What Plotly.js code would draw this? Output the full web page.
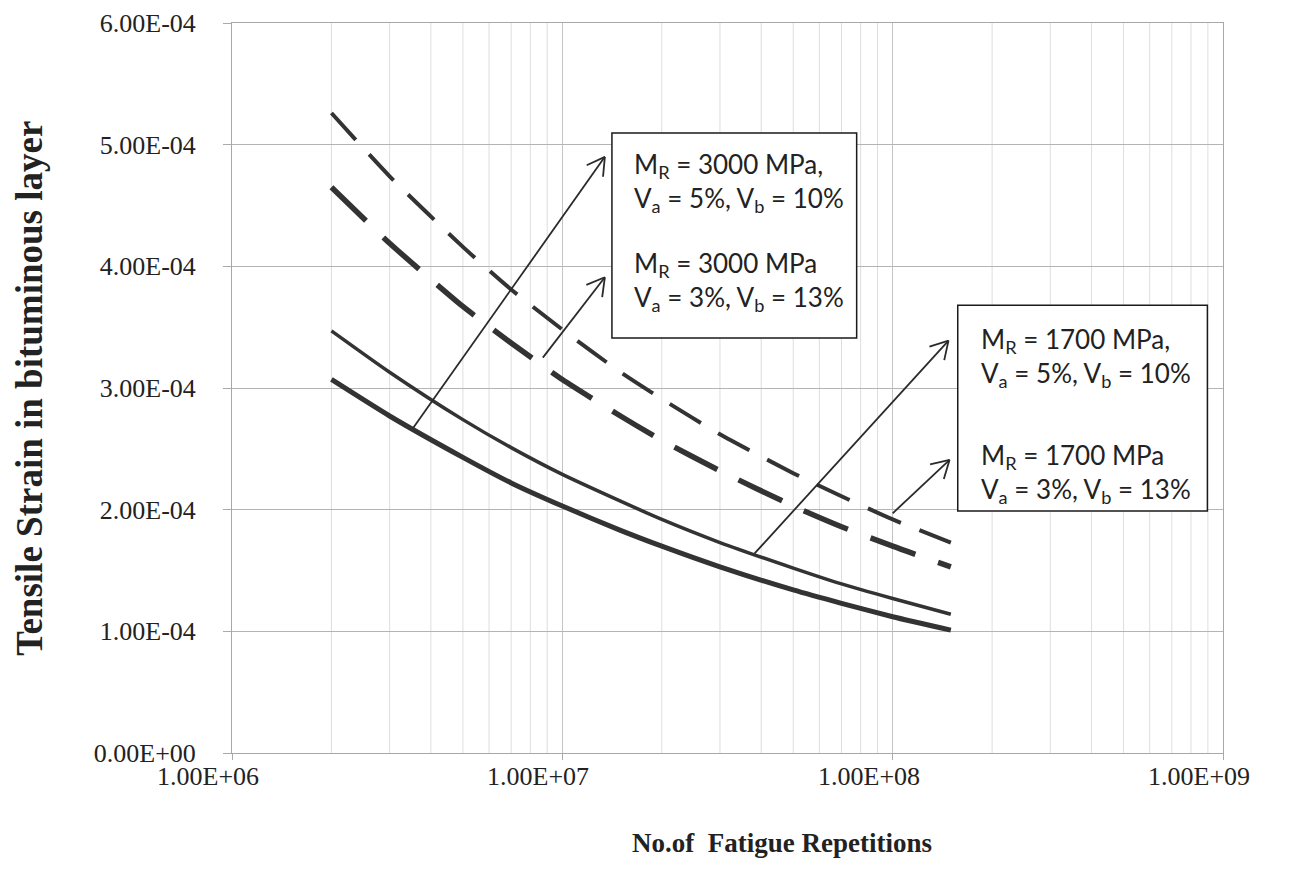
<!DOCTYPE html>
<html>
<head>
<meta charset="utf-8">
<script src="https://cdn.plot.ly/plotly-3.0.1.min.js"></script>
<style>
  html, body { margin: 0; padding: 0; background: #ffffff; }
  #chart { width: 1308px; height: 889px; }
</style>
</head>
<body>
<div id="chart"></div>
<script>
// ---- data ----
const repetitions = [2e6, 3e6, 5e6, 7e6, 1e7, 1.5e7, 2e7, 3e7, 5e7, 7e7, 1e8, 1.5e8];
const strainMR3000Va5 = [5.26e-4, 4.74e-4, 4.16e-4, 3.81e-4, 3.48e-4, 3.13e-4, 2.91e-4, 2.62e-4, 2.30e-4, 2.11e-4, 1.92e-4, 1.73e-4];
const strainMR3000Va3 = [4.65e-4, 4.19e-4, 3.67e-4, 3.37e-4, 3.07e-4, 2.77e-4, 2.57e-4, 2.32e-4, 2.03e-4, 1.86e-4, 1.70e-4, 1.53e-4];
const strainMR1700Va5 = [3.47e-4, 3.13e-4, 2.74e-4, 2.51e-4, 2.29e-4, 2.07e-4, 1.92e-4, 1.73e-4, 1.52e-4, 1.39e-4, 1.27e-4, 1.14e-4];
const strainMR1700Va3 = [3.07e-4, 2.77e-4, 2.43e-4, 2.22e-4, 2.03e-4, 1.83e-4, 1.70e-4, 1.53e-4, 1.34e-4, 1.23e-4, 1.12e-4, 1.01e-4];

const xTickVals = [1e6, 1e7, 1e8, 1e9];
const xTickText = ["1.00E+06", "1.00E+07", "1.00E+08", "1.00E+09"];
const yTickVals = [0, 1e-4, 2e-4, 3e-4, 4e-4, 5e-4, 6e-4];
const yTickText = ["0.00E+00", "1.00E-04", "2.00E-04", "3.00E-04", "4.00E-04", "5.00E-04", "6.00E-04"];
const xTitle = "No.of  Fatigue Repetitions";
const yTitle = "Tensile Strain in bituminous layer";

const boxLabels = [
  "M<sub>R</sub> = 3000 MPa,<br>V<sub>a</sub> = 5%, V<sub>b</sub> = 10%",
  "M<sub>R</sub> = 3000 MPa<br>V<sub>a</sub> = 3%, V<sub>b</sub> = 13%",
  "M<sub>R</sub> = 1700 MPa,<br>V<sub>a</sub> = 5%, V<sub>b</sub> = 10%",
  "M<sub>R</sub> = 1700 MPa<br>V<sub>a</sub> = 3%, V<sub>b</sub> = 13%"
];

// ---- layout helpers (axis ranges) ----
const X_LOG_MIN = 6, X_LOG_MAX = 9, Y_MIN = 0, Y_MAX = 6e-4;
const PLOT_W = 991, PLOT_H = 730;
function px(n) { return (Math.log10(n) - X_LOG_MIN) / (X_LOG_MAX - X_LOG_MIN); }
function py(v) { return (v - Y_MIN) / (Y_MAX - Y_MIN); }

const lineColor = "#333333";
const traces = [
  { x: repetitions, y: strainMR3000Va5, mode: "lines", name: "MR 3000, Va 5%",
    line: { color: lineColor, width: 4, dash: "36px,20px", shape: "spline", smoothing: 0.6 } },
  { x: repetitions, y: strainMR3000Va3, mode: "lines", name: "MR 3000, Va 3%",
    line: { color: lineColor, width: 5.5, dash: "48px,24px", shape: "spline", smoothing: 0.6 } },
  { x: repetitions, y: strainMR1700Va5, mode: "lines", name: "MR 1700, Va 5%",
    line: { color: lineColor, width: 3.5, shape: "spline", smoothing: 0.6 } },
  { x: repetitions, y: strainMR1700Va3, mode: "lines", name: "MR 1700, Va 3%",
    line: { color: lineColor, width: 5, shape: "spline", smoothing: 0.6 } }
];

// arrows (from a curve to a label box), in data coordinates
const arrows = [
  { from: [3.53e6, 2.67e-4], to: [1.345e7, 4.90e-4] },
  { from: [8.73e6, 3.25e-4], to: [1.345e7, 3.91e-4] },
  { from: [3.82e7, 1.64e-4], to: [1.476e8, 3.39e-4] },
  { from: [1.0e8, 1.97e-4], to: [1.487e8, 2.41e-4] }
];
// label boxes, in data coordinates [xLeft, xRight, yBottom, yTop]
const boxes = [
  [1.413e7, 7.78e7, 3.41e-4, 5.095e-4],
  [1.574e8, 8.97e8, 1.989e-4, 3.681e-4]
];

const shapes = [];
// minor vertical gridlines (2..9 in each decade)
for (let d = X_LOG_MIN; d < X_LOG_MAX; d++) {
  for (let k = 2; k <= 9; k++) {
    const xp = px(k * Math.pow(10, d));
    shapes.push({ type: "line", xref: "paper", yref: "paper", x0: xp, x1: xp, y0: 0, y1: 1,
      layer: "below", line: { color: "#dedede", width: 1 } });
  }
}
arrows.forEach(a => {
  const x0 = px(a.from[0]), y0 = py(a.from[1]);
  const x1 = px(a.to[0]), y1 = py(a.to[1]);
  shapes.push({ type: "line", xref: "paper", yref: "paper", x0, y0, x1, y1,
    line: { color: "#2a2a2a", width: 1.8 } });
  const dx = (x1 - x0) * PLOT_W, dy = (y1 - y0) * PLOT_H;
  const len = Math.hypot(dx, dy), ux = dx / len, uy = dy / len;
  const L = 20, ang = 30 * Math.PI / 180;
  [ang, -ang].forEach(t => {
    const rx = ux * Math.cos(t) - uy * Math.sin(t);
    const ry = ux * Math.sin(t) + uy * Math.cos(t);
    shapes.push({ type: "line", xref: "paper", yref: "paper",
      x0: x1, y0: y1, x1: x1 - rx * L / PLOT_W, y1: y1 - ry * L / PLOT_H,
      line: { color: "#2a2a2a", width: 1.8 } });
  });
});
boxes.forEach(b => {
  shapes.push({ type: "rect", xref: "paper", yref: "paper",
    x0: px(b[0]), x1: px(b[1]), y0: py(b[2]), y1: py(b[3]),
    fillcolor: "rgba(255,255,255,1)", line: { color: "#1a1a1a", width: 1.5 }, layer: "above" });
});

// label text positions (data coords of top-left of each text block)
const labelPos = [
  [1.62e7, 4.99e-4], [1.62e7, 4.175e-4],
  [1.83e8, 3.55e-4], [1.83e8, 2.60e-4]
];
const annotations = boxLabels.map((t, i) => ({
  text: t, xref: "paper", yref: "paper",
  x: px(labelPos[i][0]), y: py(labelPos[i][1]),
  xanchor: "left", yanchor: "top", align: "left", showarrow: false,
  font: { family: "Lato, 'Open Sans', sans-serif", size: 26, color: "#222" }
}));

const serif = "'Liberation Serif', 'Times New Roman', serif";
// x tick labels (drawn slightly left of their ticks, as in the reference)
xTickVals.forEach((v, i) => {
  annotations.push({
    text: xTickText[i], xref: "x", yref: "paper", x: Math.log10(v), y: 0,
    xshift: -24, yshift: -23, xanchor: "center", yanchor: "middle", showarrow: false,
    font: { family: serif, size: 26, color: "#222" }
  });
});

annotations.push({
  text: xTitle, xref: "paper", yref: "paper",
  x: 0.555, y: -0.123, xanchor: "center", yanchor: "middle", showarrow: false,
  font: { family: serif, size: 27, color: "#222", weight: "bold" }
});
annotations.push({
  text: yTitle, xref: "paper", yref: "paper", textangle: -90,
  x: -0.205, y: 0.5, xanchor: "center", yanchor: "middle", showarrow: false,
  font: { family: serif, size: 37, color: "#222", weight: "bold" }
});

const layout = {
  width: 1308, height: 889,
  paper_bgcolor: "#ffffff", plot_bgcolor: "#ffffff",
  margin: { l: 232, r: 85, t: 23, b: 136 },
  showlegend: false,
  xaxis: {
    type: "log", range: [X_LOG_MIN, X_LOG_MAX],
    tickmode: "array", tickvals: xTickVals, ticktext: xTickText, showticklabels: false,
    ticks: "outside", ticklen: 6, tickcolor: "#aaa",
    showgrid: true, gridcolor: "#c4c4c4", gridwidth: 1,
    showline: true, linecolor: "#a8a8a8", linewidth: 1, mirror: true,
    zeroline: false
  },
  yaxis: {
    range: [Y_MIN, Y_MAX],
    tickmode: "array", tickvals: yTickVals, ticktext: yTickText,
    ticks: "outside", ticklen: 8, tickcolor: "#aaa",
    ticklabelstandoff: 22,
    tickfont: { family: serif, size: 26, color: "#222" },
    showgrid: true, gridcolor: "#b4b4b4", gridwidth: 1,
    showline: true, linecolor: "#a8a8a8", linewidth: 1, mirror: true,
    zeroline: false
  },
  shapes: shapes,
  annotations: annotations
};

Plotly.newPlot("chart", traces, layout, { displayModeBar: false, staticPlot: true });
</script>
</body>
</html>
